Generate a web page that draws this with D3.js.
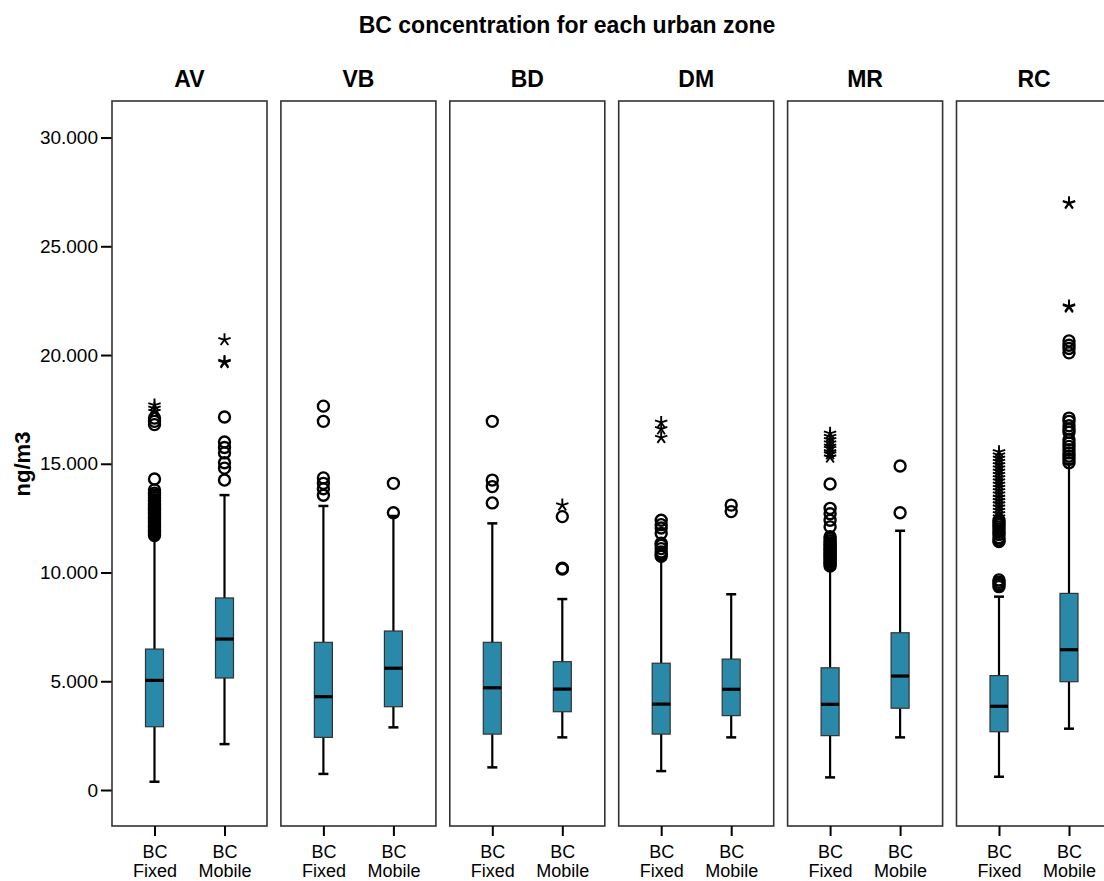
<!DOCTYPE html>
<html>
<head>
<meta charset="utf-8">
<script src="https://cdn.jsdelivr.net/npm/d3@7"></script>
<style>
  body { margin: 0; background: #fff; }
  text { font-family: "Liberation Sans", Arial, sans-serif; fill: #000; }
</style>
</head>
<body>
<div id="chart"></div>
<script>
/*
* BC concentration per urban zone - boxplots, fixed vs mobile
*/

var zones = ["AV", "VB", "BD", "DM", "MR", "RC"];
var series = ["BC Fixed", "BC Mobile"];
var yTicks = [0, 5000, 10000, 15000, 20000, 25000, 30000];

// [lower whisker, Q1, median, Q3, upper whisker] in ng/m3, one row per zone
var fixedStats = [
    [380, 2910, 5040, 6480, 11600],
    [740, 2420, 4290, 6790, 13060],
    [1040, 2570, 4700, 6790, 12260],
    [870, 2570, 3950, 5830, 10600],
    [580, 2500, 3940, 5620, 10200],
    [610, 2680, 3850, 5260, 8890]
];
var mobileStats = [
    [2110, 5150, 6940, 8830, 13560],
    [2880, 3830, 5600, 7310, 12600],
    [2420, 3600, 4640, 5900, 8780],
    [2420, 3420, 4630, 6020, 9000],
    [2420, 3760, 5240, 7230, 11920],
    [2820, 4980, 6450, 9040, 15000]
];

// outliers (circles) and extremes (stars)
var fixedOutliers = [
    [11700, 11780, 11850, 11930, 12000, 12080, 12150, 12230, 12300, 12380, 12450, 12530, 12600, 12680, 12750, 12830, 12900, 12980, 13050, 13130, 13200, 13280, 13350, 13450, 13550, 13650, 13800, 14300, 16800, 16950, 17100],
    [13550, 13850, 14100, 14350, 16950, 17650],
    [13200, 13950, 14250, 16950],
    [10750, 10850, 10950, 11100, 11250, 11350, 11800, 12050, 12200, 12400],
    [10300, 10380, 10450, 10530, 10600, 10680, 10750, 10830, 10900, 10980, 11050, 11130, 11200, 11280, 11350, 11450, 11550, 11650, 12100, 12400, 12700, 12950, 14070],
    [9350, 9450, 9550, 9660, 11420, 11500, 11600, 11750, 11850, 12000, 12100, 12200, 12300, 12400]
];
var fixedExtremes = [
    [17400, 17550, 17700],
    [],
    [],
    [16200, 16600, 16900],
    [15300, 15450, 15550, 15700, 15800, 15950, 16100, 16250, 16400],
    [12550, 12700, 12850, 13000, 13150, 13300, 13450, 13600, 13750, 13900, 14050, 14200, 14350, 14500, 14650, 14800, 14950, 15100, 15250, 15400, 15550]
];
var mobileOutliers = [
    [14250, 14800, 15050, 15500, 15750, 16000, 17150],
    [12750, 14100],
    [10160, 10200, 12570],
    [12800, 13100],
    [12750, 14900],
    [15050, 15200, 15350, 15500, 15650, 15800, 15950, 16100, 16450, 16600, 16750, 16950, 17100, 20100, 20300, 20450, 20650]
];
var mobileExtremes = [
    [19650, 19700, 20700],
    [],
    [13100],
    [],
    [],
    [22200, 22250, 26970, 27000]
];

var width = 1104, height = 881;
var panelTop = 101, panelBottom = 826;

var svg = d3.select("#chart")
    .append("svg")
    .attr("width", width)
    .attr("height", height);

// Scales
var zoneX = d3.scaleBand()
    .domain(zones)
    .range([112, 1111.5])
    .paddingInner(0.0823)
    .paddingOuter(0);

var seriesX = d3.scalePoint()
    .domain(series)
    .range([0, zoneX.bandwidth()])
    .padding(0.607);

var y = d3.scaleLinear()
    .domain([-1655, 31680])
    .range([panelBottom, panelTop]);

var locale = d3.formatLocale({decimal: ",", thousands: ".", grouping: [3], currency: ["", ""]});
var fmt = locale.format(",");

// 5-armed asterisk used for extreme values
var asterisk = {
    draw: function (ctx, size) {
        var r = Math.sqrt(size);
        for (var k = 0; k < 5; k++) {
            var a = -Math.PI / 2 + k * 2 * Math.PI / 5;
            ctx.moveTo(0, 0);
            ctx.lineTo(r * Math.cos(a), r * Math.sin(a));
        }
    }
};

// Title
svg.append("text")
    .attr("x", 567)
    .attr("y", 33)
    .attr("text-anchor", "middle")
    .attr("font-size", "23px")
    .attr("font-weight", "bold")
    .text("BC concentration for each urban zone");

// Y label
svg.append("text")
    .attr("transform", "translate(30," + 464 + ") rotate(-90)")
    .attr("text-anchor", "middle")
    .attr("font-size", "22px")
    .attr("font-weight", "bold")
    .text("ng/m3");

// Y axis on first panel
var yAxis = svg.append("g")
    .attr("transform", "translate(" + zoneX(zones[0]) + ",0)")
    .call(d3.axisLeft(y).tickValues(yTicks).tickFormat(fmt).tickSize(11).tickPadding(3));
yAxis.select(".domain").remove();
yAxis.selectAll(".tick line").attr("stroke", "#000").attr("stroke-width", 2);
yAxis.selectAll(".tick text")
    .attr("font-size", "19px")
    .attr("font-family", "Liberation Sans, Arial, sans-serif")
    .attr("fill", "#222");

var statsBy = {"BC Fixed": fixedStats, "BC Mobile": mobileStats};
var outBy = {"BC Fixed": fixedOutliers, "BC Mobile": mobileOutliers};
var extBy = {"BC Fixed": fixedExtremes, "BC Mobile": mobileExtremes};

var boxW = 18, capW = 10;

zones.forEach(function (zone, zi) {
    var g = svg.append("g")
        .attr("transform", "translate(" + zoneX(zone) + ",0)");

    // facet label
    g.append("text")
        .attr("x", zoneX.bandwidth() / 2)
        .attr("y", 87)
        .attr("text-anchor", "middle")
        .attr("font-size", "23px")
        .attr("font-weight", "bold")
        .text(zone);

    // frame
    g.append("rect")
        .attr("x", 0)
        .attr("y", panelTop)
        .attr("width", zoneX.bandwidth())
        .attr("height", panelBottom - panelTop)
        .attr("fill", "none")
        .attr("stroke", "#333")
        .attr("stroke-width", 1.6);

    // x axis
    var xAxis = g.append("g")
        .attr("transform", "translate(0," + panelBottom + ")")
        .call(d3.axisBottom(seriesX).tickSize(10).tickFormat(""));
    xAxis.select(".domain").remove();
    xAxis.selectAll(".tick line").attr("stroke", "#000").attr("stroke-width", 2);
    xAxis.selectAll(".tick").each(function (d) {
        var parts = d.split(" ");
        var t = d3.select(this).append("text")
            .attr("text-anchor", "middle")
            .attr("font-size", "18px")
            .attr("fill", "#222");
        t.append("tspan").attr("x", 0).attr("y", 32).text(parts[0]);
        t.append("tspan").attr("x", 0).attr("y", 51).text(parts[1]);
    });

    series.forEach(function (s) {
        var st = statsBy[s][zi];
        var cx = seriesX(s);

        // whiskers
        g.append("line")
            .attr("x1", cx).attr("x2", cx)
            .attr("y1", y(st[3])).attr("y2", y(st[4]))
            .attr("stroke", "#000").attr("stroke-width", 2.2);
        g.append("line")
            .attr("x1", cx).attr("x2", cx)
            .attr("y1", y(st[1])).attr("y2", y(st[0]))
            .attr("stroke", "#000").attr("stroke-width", 2.2);
        [st[0], st[4]].forEach(function (v) {
            g.append("line")
                .attr("x1", cx - capW / 2).attr("x2", cx + capW / 2)
                .attr("y1", y(v)).attr("y2", y(v))
                .attr("stroke", "#000").attr("stroke-width", 2.5);
        });

        // box
        g.append("rect")
            .attr("x", cx - boxW / 2)
            .attr("y", y(st[3]))
            .attr("width", boxW)
            .attr("height", y(st[1]) - y(st[3]))
            .attr("fill", "#2a89a8")
            .attr("stroke", "#333")
            .attr("stroke-width", 1.2);

        // median
        g.append("line")
            .attr("x1", cx - boxW / 2).attr("x2", cx + boxW / 2)
            .attr("y1", y(st[2])).attr("y2", y(st[2]))
            .attr("stroke", "#000").attr("stroke-width", 3.2);

        // outliers
        g.selectAll(null)
            .data(outBy[s][zi])
            .enter()
            .append("circle")
            .attr("cx", cx)
            .attr("cy", function (d) { return y(d); })
            .attr("r", 5.5)
            .attr("fill", "none")
            .attr("stroke", "#000")
            .attr("stroke-width", 2.4);

        // extremes
        g.selectAll(null)
            .data(extBy[s][zi])
            .enter()
            .append("path")
            .attr("transform", function (d) { return "translate(" + cx + "," + y(d) + ")"; })
            .attr("d", d3.symbol().type(asterisk).size(42))
            .attr("fill", "none")
            .attr("stroke", "#000")
            .attr("stroke-width", 1.9);
    });
});
</script>
</body>
</html>
